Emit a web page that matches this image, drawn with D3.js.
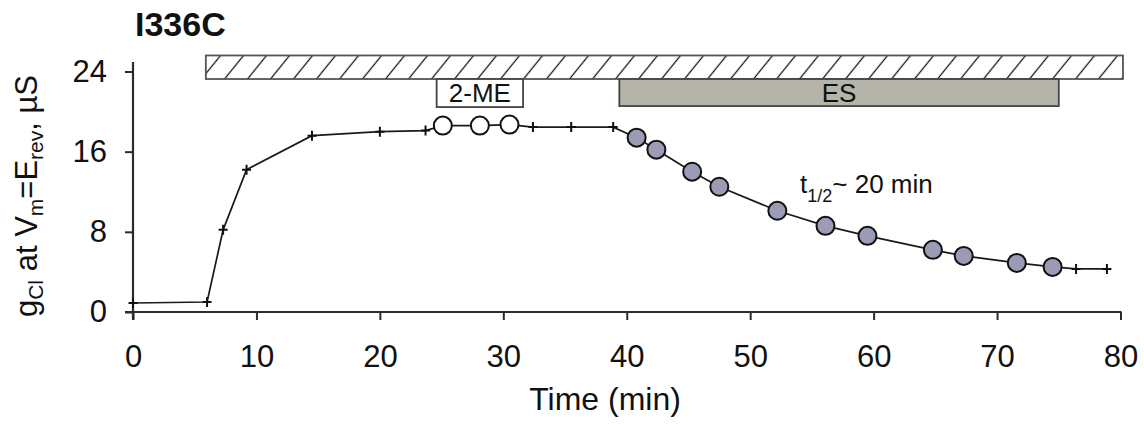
<!DOCTYPE html>
<html>
<head>
<meta charset="utf-8">
<script src="https://cdn.jsdelivr.net/npm/d3@7"></script>
<style>
  html, body { margin: 0; padding: 0; background: #fff; }
  svg { display: block; }
</style>
</head>
<body>
<div id="chart"></div>
<script>
// Data
const time = [0, 6, 7.3, 9.2, 14.5, 20, 23.7, 25.1, 28.1, 30.5, 32.4, 35.5, 38.9,
  40.8, 42.4, 45.3, 47.5, 52.2, 56.1, 59.5, 64.8, 67.3, 71.6, 74.5, 76.4, 78.9];
const gCl = [0.9, 1.0, 8.2, 14.2, 17.6, 18.0, 18.1, 18.6, 18.6, 18.7, 18.45, 18.45, 18.45,
  17.4, 16.2, 14.0, 12.5, 10.1, 8.6, 7.6, 6.2, 5.6, 4.9, 4.5, 4.3, 4.3];
const marker = ["cross", "cross", "cross", "cross", "cross", "cross", "cross",
  "open", "open", "open", "cross", "cross", "cross",
  "filled", "filled", "filled", "filled", "filled", "filled", "filled",
  "filled", "filled", "filled", "filled", "cross", "cross"];

// Treatment bars
const barLabels = ["", "2-ME", "ES"];
const barStart = [5.9, 24.6, 39.4];
const barEnd = [80.2, 31.6, 75.0];
const barLow = [23.25, 20.45, 20.55];
const barHigh = [25.6, 23.25, 23.25];
const barKind = ["hatch", "box", "gray"];

const xTicks = [0, 10, 20, 30, 40, 50, 60, 70, 80];
const yTicks = [0, 8, 16, 24];

const width = 1144, height = 424;
const font = "'Liberation Sans', Arial, sans-serif";
const axisColor = "#2b2b2b";

const svg = d3.select("#chart").append("svg")
  .attr("width", width)
  .attr("height", height)
  .attr("font-family", font);

const x = d3.scaleLinear().domain([0, 80]).range([133, 1120.5]);
const y = d3.scaleLinear().domain([0, 24]).range([312, 71.5]);

const defs = svg.append("defs");
defs.append("pattern")
  .attr("id", "hatch")
  .attr("patternUnits", "userSpaceOnUse")
  .attr("width", 23)
  .attr("height", 12)
  .attr("x", 208)
  .attr("patternTransform", "skewX(-39)")
  .append("path")
  .attr("d", "M11.5,-1V13")
  .attr("stroke", "#111")
  .attr("stroke-width", 1.6);

// title
svg.append("text")
  .attr("x", 135)
  .attr("y", 36)
  .attr("font-size", 34)
  .attr("font-weight", "bold")
  .attr("fill", "#111")
  .text("I336C");

// treatment bars
const bars = svg.append("g");
barKind.forEach((k, i) => {
  const r = bars.append("rect")
    .attr("x", x(barStart[i]))
    .attr("y", y(barHigh[i]))
    .attr("width", x(barEnd[i]) - x(barStart[i]))
    .attr("height", y(barLow[i]) - y(barHigh[i]));
  if (k === "hatch") {
    r.attr("fill", "url(#hatch)").attr("stroke", "#555").attr("stroke-width", 1.8);
  } else if (k === "box") {
    r.attr("fill", "#fff").attr("stroke", "#444").attr("stroke-width", 1.8);
  } else {
    r.attr("fill", "#b4b4a8").attr("stroke", "#444").attr("stroke-width", 1.8);
  }
  if (barLabels[i]) {
    bars.append("text")
      .attr("x", (x(barStart[i]) + x(barEnd[i])) / 2)
      .attr("y", (y(barLow[i]) + y(barHigh[i])) / 2)
      .attr("dy", "0.36em")
      .attr("text-anchor", "middle")
      .attr("font-size", 26)
      .attr("fill", "#111")
      .text(barLabels[i]);
  }
});

// axes
const xAxis = svg.append("g")
  .attr("transform", `translate(0,${y(0)})`)
  .call(d3.axisBottom(x).tickValues(xTicks).tickSize(8).tickSizeOuter(0).tickPadding(25));
const yAxis = svg.append("g")
  .attr("transform", `translate(${x(0)},0)`)
  .call(d3.axisLeft(y).tickValues(yTicks).tickSize(8).tickSizeOuter(0).tickPadding(18));

[xAxis, yAxis].forEach(a => {
  a.select(".domain").remove();
  a.selectAll(".tick line").attr("stroke", axisColor).attr("stroke-width", 2);
  a.selectAll(".tick text")
    .attr("fill", "#111")
    .attr("font-size", 31)
    .attr("font-family", font);
});

svg.append("line")
  .attr("x1", x(0) - 8).attr("x2", x(80) + 1)
  .attr("y1", y(0)).attr("y2", y(0))
  .attr("stroke", axisColor).attr("stroke-width", 2.2);
svg.append("line")
  .attr("x1", x(0)).attr("x2", x(0))
  .attr("y1", y(0) + 8).attr("y2", 62)
  .attr("stroke", axisColor).attr("stroke-width", 2.2);

// axis titles
svg.append("text")
  .attr("x", 605)
  .attr("y", 410)
  .attr("text-anchor", "middle")
  .attr("font-size", 32)
  .attr("fill", "#111")
  .text("Time (min)");

const yt = svg.append("text")
  .attr("transform", "translate(37,196) rotate(-90)")
  .attr("text-anchor", "middle")
  .attr("font-size", 31)
  .attr("fill", "#111");
yt.append("tspan").text("g");
yt.append("tspan").attr("font-size", 21).attr("dy", 6).text("Cl");
yt.append("tspan").attr("dy", -6).text(" at V");
yt.append("tspan").attr("font-size", 21).attr("dy", 6).text("m");
yt.append("tspan").attr("dy", -6).text("=E");
yt.append("tspan").attr("font-size", 21).attr("dy", 6).text("rev");
yt.append("tspan").attr("dy", -6).text(", \u00b5S");

// data line
const pts = time.map((t, i) => ({ t, g: gCl[i], m: marker[i] }));
svg.append("path")
  .datum(pts)
  .attr("fill", "none")
  .attr("stroke", "#1a1a1a")
  .attr("stroke-width", 1.7)
  .attr("d", d3.line().x(d => x(d.t)).y(d => y(d.g)));

svg.append("g")
  .selectAll("path")
  .data(pts.filter(d => d.m === "cross"))
  .join("path")
  .attr("d", d => `M${x(d.t) - 4.5},${y(d.g)}h9M${x(d.t)},${y(d.g) - 5}v10`)
  .attr("stroke", "#111")
  .attr("stroke-width", 2);

svg.append("g")
  .selectAll("circle")
  .data(pts.filter(d => d.m !== "cross"))
  .join("circle")
  .attr("cx", d => x(d.t))
  .attr("cy", d => y(d.g))
  .attr("r", 9)
  .attr("fill", d => d.m === "open" ? "#fff" : "#9b9bb5")
  .attr("stroke", "#111")
  .attr("stroke-width", 2);

// half-time annotation
const ann = svg.append("text")
  .attr("x", 800)
  .attr("y", 193)
  .attr("font-size", 26)
  .attr("fill", "#111");
ann.append("tspan").text("t");
ann.append("tspan").attr("font-size", 18).attr("dy", 9).text("1/2");
ann.append("tspan").attr("dy", -9).text("~ 20 min");
</script>
</body>
</html>
